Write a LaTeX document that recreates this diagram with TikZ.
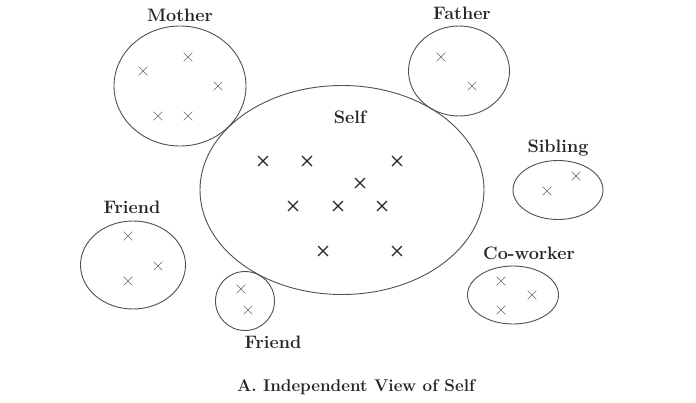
\documentclass[tikz,border=0pt]{standalone}
\usepackage{xcolor}
\definecolor{ringgray}{RGB}{80,80,80}
\definecolor{markgray}{RGB}{105,105,105}
\usetikzlibrary{shapes.geometric,shapes.misc}
\tikzset{
  ring/.style    ={ellipse,draw=ringgray,line width=0.9pt,inner sep=0pt},
  xmark/.style   ={cross out,draw=markgray,line width=0.6pt,minimum size=8pt,inner sep=0pt},
  selfmark/.style={cross out,draw=black!85,line width=1.3pt,minimum size=8.5pt,inner sep=0pt},
  tag/.style     ={font=\fontsize{18}{21}\selectfont\bfseries,text=black!85,inner sep=0pt},
}

\begin{document}
\begin{tikzpicture}[x=1pt,y=-1pt]
  \useasboundingbox[fill=white] (0,0) rectangle (696,402);

  % ---- self (centre) ---------------------------------------------------
  \node[ring,minimum width=284pt,minimum height=209pt] (self) at (342,190) {};
  \node[tag] (selflbl) at (350,117) {Self};
  \foreach \px/\py [count=\i] in {263/161,307/161,397/161,360/183,293/206,
                                  338/206,382/206,323/251,397/251}
    \node[selfmark] (s\i) at (\px,\py) {};

  % ---- mother, father (top) ---------------------------------------------
  \node[ring,minimum width=132pt,minimum height=120pt] (mother) at (180,86) {};
  \node[tag] (motherlbl) at (180,15) {Mother};
  \foreach \px/\py [count=\i] in {143/71,188/57,218/86,158/116,188/116}
    \node[xmark] (m\i) at (\px,\py) {};

  \node[ring,minimum width=101pt,minimum height=90pt] (father) at (459,71) {};
  \node[tag] (fatherlbl) at (462,13) {Father};
  \foreach \px/\py [count=\i] in {441/57,472/86}
    \node[xmark] (f\i) at (\px,\py) {};

  % ---- sibling, co-worker (right) ---------------------------------------
  \node[ring,minimum width=90pt,minimum height=59pt] (sibling) at (558,190) {};
  \node[tag] (siblinglbl) at (558,148) {Sibling};
  \foreach \px/\py [count=\i] in {576/176,547/191}
    \node[xmark] (b\i) at (\px,\py) {};

  \node[ring,minimum width=91pt,minimum height=58pt] (cowork) at (513,295) {};
  \node[tag] (coworklbl) at (529,253) {Co-worker};
  \foreach \px/\py [count=\i] in {501/281,532/295,501/310}
    \node[xmark] (c\i) at (\px,\py) {};

  % ---- friends (left, bottom) -------------------------------------------
  \node[ring,minimum width=105pt,minimum height=88pt] (friendA) at (133,265) {};
  \node[tag] (friendAlbl) at (132,207) {Friend};
  \foreach \px/\py [count=\i] in {128/236,158/266,128/281}
    \node[xmark] (a\i) at (\px,\py) {};

  \node[ring,minimum width=59pt,minimum height=59pt] (friendB) at (245,301) {};
  \node[tag] (friendBlbl) at (273,342) {Friend};
  \foreach \px/\py [count=\i] in {241/289,248/310}
    \node[xmark] (g\i) at (\px,\py) {};

  % ---- caption ----------------------------------------------------------
  \node[tag,font=\fontsize{17}{20}\selectfont\bfseries] (caption) at (356,387)
    {A. Independent View of Self};
\end{tikzpicture}
\end{document}
